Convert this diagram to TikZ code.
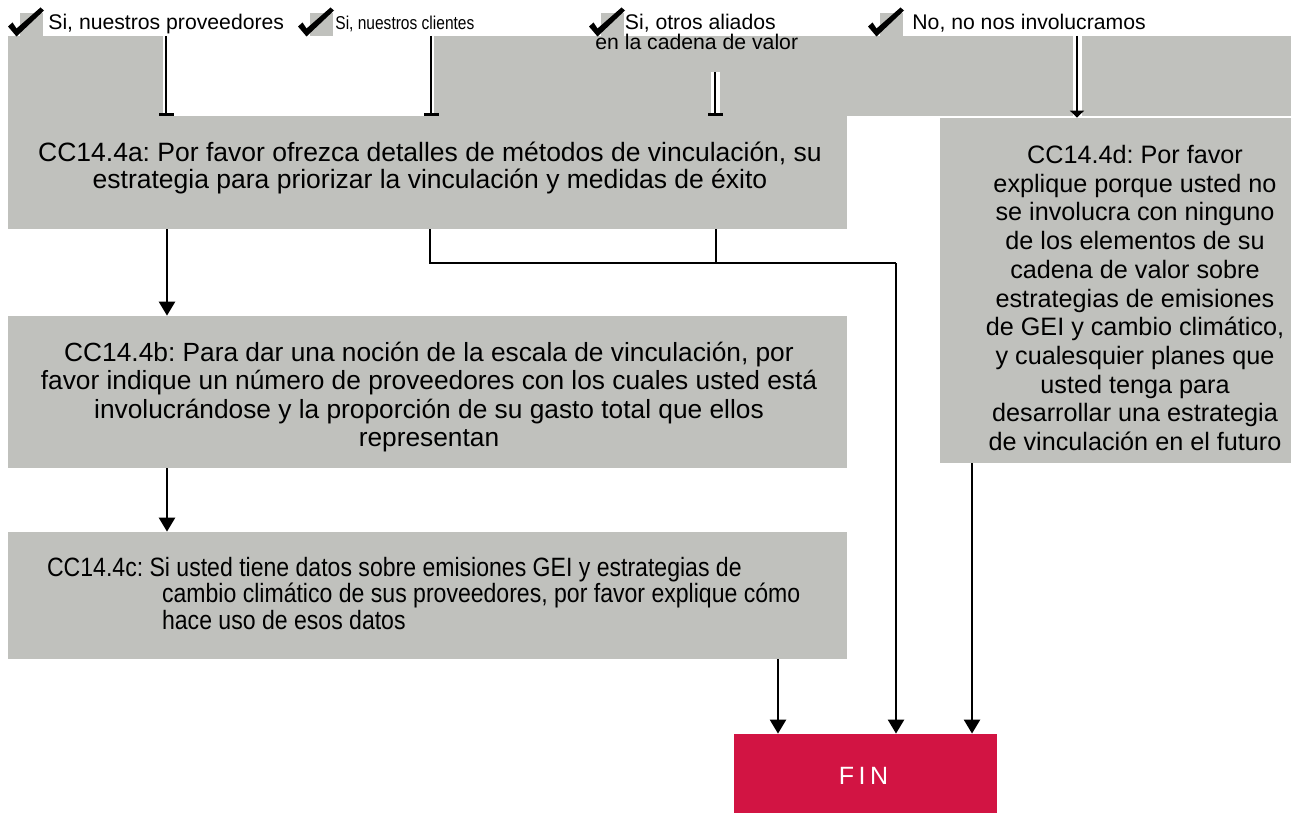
\documentclass[tikz,border=0pt]{standalone}
\usepackage{fontspec}
\setmainfont{Liberation Sans}
\newfontfamily\narrowfont[FakeStretch=0.87]{Liberation Sans}
\newfontfamily\narrowlab[FakeStretch=0.835]{Liberation Sans}
\usetikzlibrary{arrows.meta,fit}
\frenchspacing
\definecolor{boxgray}{RGB}{192,193,189}
\definecolor{finred}{RGB}{210,20,67}
\newcommand{\checkicon}[1]{%
  \begin{scope}[shift={(#1,0)}]
    \fill[boxgray] (12,13) rectangle (35,36);
    \fill[black] (0,26.5) -- (4.5,22.5) -- (8.5,28.5) -- (32.5,7.5) -- (36,10.5) -- (8.5,36.5) -- cycle;
  \end{scope}}
\tikzset{
  boxfill/.style={fill=boxgray, draw=none, inner sep=0pt},
  boxtext/.style={inner sep=0pt, font=\fontsize{12.5pt}{14.2pt}\selectfont},
  labtext/.style={inner sep=0pt, font=\fontsize{10.6pt}{10.35pt}\selectfont},
  tee/.style={line width=1.25pt, -{Bar[width=7.5pt,line width=1.25pt]}},
  arr/.style={line width=1.25pt, -{Triangle[width=8pt,length=7pt]}},
  smallarr/.style={line width=1.4pt, -{Triangle[width=7pt,length=3.5pt]}},
  thinl/.style={line width=0.75pt},
  halo/.style={white, line width=4.5pt},
}
\begin{document}
\begin{tikzpicture}[x=0.5pt,y=-0.5pt]
\fill[white] (0,0) rectangle (1291,813);
\useasboundingbox (0,0) rectangle (1291,813);

% gray band
\fill[boxgray] (8,36) rectangle (166,116);
\fill[boxgray] (431,36) rectangle (1291,116);

% boxes
\node[boxfill, fit={(8,116) (847,229)}] (a) {};
\node[boxfill, fit={(8,316) (847,468)}] (b) {};
\node[boxfill, fit={(8,532) (847,659)}] (c) {};
\node[boxfill, fit={(940,118) (1291,463)}] (d) {};
\node[fill=finred, draw=none, inner sep=0pt, fit={(734,734) (997,813)}] (fin) {};

% check icons and labels
\checkicon{8}
\checkicon{298}
\checkicon{589}
\checkicon{868}
\node[labtext, anchor=base west] (l1) at (48,30) {Si, nuestros proveedores};
\node[inner sep=0pt, anchor=base west, font=\narrowlab\fontsize{9.3pt}{10pt}\selectfont] (l2) at (335,30) {Si, nuestros clientes};
\node[labtext, anchor=base west, align=left] (l3) at (595,50) {\hspace*{14.75pt}Si, otros aliados\\en la cadena de valor};
\node[labtext, anchor=base west] (l4) at (912,30) {No, no nos involucramos};

% texts
\node[boxtext, align=center, font=\fontsize{13.25pt}{13.35pt}\selectfont, anchor=base] (ta) at (430,188.3)
  {CC14.4a: Por favor ofrezca detalles de métodos de vinculación, su\\estrategia para priorizar la vinculación y medidas de éxito};
\node[boxtext, align=center, font=\fontsize{13.15pt}{14.17pt}\selectfont, anchor=base] (tb) at (429,446.5)
  {CC14.4b: Para dar una noción de la escala de vinculación, por\\favor indique un número de proveedores con los cuales usted está\\involucrándose y la proporción de su gasto total que ellos\\representan};
\node[boxtext, align=left, font=\narrowfont\fontsize{13.25pt}{13.25pt}\selectfont, anchor=base west] (tc) at (46.7,629)
  {CC14.4c: Si usted tiene datos sobre emisiones GEI y estrategias de\\\hspace*{57.5pt}cambio climático de sus proveedores, por favor explique cómo\\\hspace*{57.5pt}hace uso de esos datos};
\node[boxtext, align=center, font=\fontsize{12.6pt}{14.37pt}\selectfont, anchor=base] (td) at (1135,450.7)
  {CC14.4d: Por favor\\explique porque usted no\\se involucra con ninguno\\de los elementos de su\\cadena de valor sobre\\estrategias de emisiones\\de GEI y cambio climático,\\y cualesquier planes que\\usted tenga para\\desarrollar una estrategia\\de vinculación en el futuro};
\node[inner sep=0pt, text=white, font=\fontsize{12.5pt}{14pt}\selectfont, anchor=base] (tfin) at (863.5,784) {F\hspace{2.25pt}I\hspace{2.25pt}N};

% top connectors
\coordinate (s1) at (166,36);
\coordinate (s2) at (431,36);
\coordinate (s3) at (715,72);
\coordinate (s4) at (1077,36);
\draw[halo, line width=3pt] (s1) -- (a.north -| s1);
\draw[tee] (s1) -- (a.north -| s1);
\draw[halo, line width=3pt] (s2) -- (a.north -| s2);
\draw[tee] (s2) -- (a.north -| s2);
\draw[halo] (s3) -- (a.north -| s3);
\draw[tee] (s3) -- (a.north -| s3);
\draw[halo] (s4) -- ([yshift=1pt]d.north -| s4);
\draw[smallarr] (s4) -- (d.north -| s4);

% lower connectors
\coordinate (xab) at (167,0);
\coordinate (j1) at (430,0);
\coordinate (j2) at (716,0);
\coordinate (jr) at (896,263);
\coordinate (xcf) at (778,0);
\coordinate (xdf) at (972,0);
\draw[arr] (a.south -| xab) -- (b.north -| xab);
\draw[arr] (b.south -| xab) -- (c.north -| xab);
\draw[thinl] (a.south -| j1) |- (jr);
\draw[thinl] (a.south -| j2) -- (j2 |- jr);
\draw[arr] (jr) -- (fin.north -| jr);
\draw[arr] (c.south -| xcf) -- (fin.north -| xcf);
\draw[arr] (d.south -| xdf) -- (fin.north -| xdf);
\end{tikzpicture}
\end{document}
